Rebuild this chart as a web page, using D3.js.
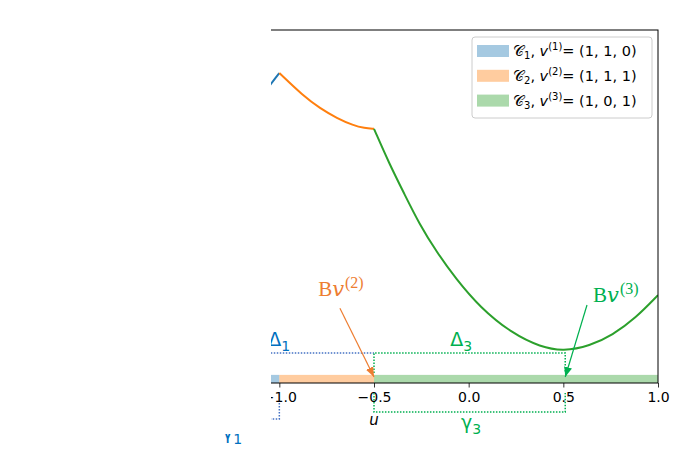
<!DOCTYPE html>
<html>
<head>
<meta charset="utf-8">
<script src="https://cdn.jsdelivr.net/npm/d3@7"></script>
<style>
  body { margin: 0; background: #fff; }
  svg { display: block; }
</style>
</head>
<body>
<div id="chart"></div>
<script>
// x ticks (the left part of the axes is cropped away in the picture)
const xTickValues = [-2.0, -1.5, -1.0, -0.5, 0.0, 0.5, 1.0];

// cones along u, with their sign vectors
const coneNames = ['1', '2', '3'];
const coneLo = [-2.0, -1.0, -0.5];
const coneHi = [-1.0, -0.5, 1.0];
const coneVectors = ['(1, 1, 0)', '(1, 1, 1)', '(1, 0, 1)'];
const bandTop = 0.23;

// curve pieces, one per cone
const curve1U = [-1.10, -1.04, -1.00];
const curve1V = [8.10, 8.50, 8.78];
const curve2U = [-1.00, -0.875, -0.785, -0.695, -0.61, -0.55, -0.50];
const curve2V = [8.78, 8.14, 7.78, 7.50, 7.30, 7.22, 7.20];
const curve3U = [-0.50, -0.42, -0.34, -0.26, -0.17, -0.07, 0.06, 0.23, 0.38, 0.50, 0.64, 0.76, 0.88, 1.00];
const curve3V = [7.20, 6.22, 5.36, 4.50, 3.72, 2.97, 2.14, 1.40, 1.02, 0.90, 1.05, 1.36, 1.83, 2.49];

// projected points Bv(k) and the gap brackets
const bPointU = [-1.5, -0.5, 0.51];
const deltaLevel = 0.85;
const gamma1Y = [-0.54, -1.02];
const gamma3Y = [-0.28, -0.82];

const W = 698, H = 461;
const tab = ['#1f77b4', '#ff7f0e', '#2ca02c'];
const annoOrange = '#ed7d31', annoGreen = '#00b050', annoBlue = '#0070c0', dotBlue = '#4472c4';
const sans = 'DejaVu Sans, Noto Sans, sans-serif';

const x = d3.scaleLinear().domain([-2, 1]).range([90, 658]);
const y = d3.scaleLinear().domain([0, 10]).range([383, 30]);

const svg = d3.select('#chart').append('svg')
    .attr('width', W)
    .attr('height', H)
    .attr('viewBox', `0 0 ${W} ${H}`);

const defs = svg.append('defs');
defs.append('clipPath').attr('id', 'view')
    .append('rect').attr('x', 271).attr('y', 0).attr('width', W - 271).attr('height', H);
defs.append('clipPath').attr('id', 'plot')
    .append('rect').attr('x', x(-2)).attr('y', y(10)).attr('width', x(1) - x(-2)).attr('height', y(0) - y(10));
defs.append('clipPath').attr('id', 'g1clip')
    .append('rect').attr('x', 0).attr('y', 434).attr('width', 271).attr('height', H - 434);

// arrow heads
[['head-orange', annoOrange], ['head-green', annoGreen]].forEach(([id, c]) => {
    defs.append('marker')
        .attr('id', id)
        .attr('markerUnits', 'userSpaceOnUse')
        .attr('viewBox', '0 0 10 8')
        .attr('markerWidth', 10)
        .attr('markerHeight', 8)
        .attr('refX', 10)
        .attr('refY', 4)
        .attr('orient', 'auto')
        .append('path')
        .attr('d', 'M0,0 L10,4 L0,8 z')
        .attr('fill', c);
});

const view = svg.append('g').attr('clip-path', 'url(#view)');
const plot = view.append('g').attr('clip-path', 'url(#plot)');

// colour band along the axis
plot.append('g')
    .selectAll('rect')
    .data(coneNames)
    .join('rect')
    .attr('x', (d, i) => x(coneLo[i]))
    .attr('y', y(bandTop))
    .attr('width', (d, i) => x(coneHi[i]) - x(coneLo[i]))
    .attr('height', y(0) - y(bandTop))
    .attr('fill', (d, i) => tab[i])
    .attr('fill-opacity', 0.4);

// curves
const line = d3.line()
    .x(d => x(d[0]))
    .y(d => y(d[1]))
    .curve(d3.curveBasis);

const pieces = [
    d3.zip(curve1U, curve1V),
    d3.zip(curve2U, curve2V),
    d3.zip(curve3U, curve3V)
];
plot.append('g')
    .selectAll('path')
    .data(pieces)
    .join('path')
    .attr('d', line)
    .attr('fill', 'none')
    .attr('stroke', (d, i) => tab[i])
    .attr('stroke-width', 2);

// spines
const spines = view.append('g').attr('stroke', '#000').attr('stroke-width', 1).attr('fill', 'none');
spines.append('rect')
    .attr('x', x(-2))
    .attr('y', y(10))
    .attr('width', x(1) - x(-2))
    .attr('height', y(0) - y(10));

// x axis
const axis = view.append('g')
    .attr('transform', `translate(0,${y(0)})`)
    .call(d3.axisBottom(x)
        .tickValues(xTickValues)
        .tickFormat(d3.format('.1f'))
        .tickSize(4.5)
        .tickPadding(5));
axis.select('.domain').remove();
axis.selectAll('line').attr('stroke', '#000').attr('stroke-width', 0.8);
axis.selectAll('text')
    .attr('fill', '#000')
    .style('font-family', sans)
    .style('font-size', '14px');

view.append('text')
    .attr('x', (x(-2) + x(1)) / 2)
    .attr('y', 425)
    .attr('text-anchor', 'middle')
    .style('font-family', sans)
    .style('font-size', '15px')
    .style('font-style', 'italic')
    .text('u');

// dotted gap markers
const dotted = (g, d, color) => g.append('path')
    .attr('d', d)
    .attr('fill', 'none')
    .attr('stroke', color)
    .attr('stroke-width', 1.5)
    .attr('stroke-dasharray', '1.5,1.5');

dotted(view, `M${x(bPointU[0])},${y(bandTop)}V${y(deltaLevel)}H${x(bPointU[1])}`, dotBlue);
dotted(view, `M${x(bPointU[1])},${y(bandTop) - 2}V${y(deltaLevel)}H${x(bPointU[2])}V${y(bandTop) - 2}`, annoGreen);
dotted(view, `M${x(bPointU[0])},${y(gamma1Y[0])}V${y(gamma1Y[1])}H${x(-1.0)}V${y(gamma1Y[0])}`, dotBlue);
dotted(view, `M${x(bPointU[1])},${y(gamma3Y[0])}V${y(gamma3Y[1])}H${x(bPointU[2])}V${y(gamma3Y[0])}`, annoGreen);

// Greek labels with subscripts
function greek(g, symbol, sub, ux, py, color) {
    const t = g.append('text')
        .attr('x', x(ux))
        .attr('y', py)
        .attr('text-anchor', 'middle')
        .attr('fill', color)
        .style('font-family', sans)
        .style('font-size', '19px');
    t.append('tspan').text(symbol);
    t.append('tspan').attr('dy', 5).style('font-size', '14px').text(sub);
    return t;
}
greek(view, 'Δ', '1', -1.0, 346, annoBlue);
greek(view, 'Δ', '3', -0.04, 346, annoGreen);
greek(view, 'γ', '3', 0.013, 429, annoGreen);
const g1 = svg.append('g').attr('clip-path', 'url(#g1clip)');
greek(g1, 'γ', '1', -1.25, 439, annoBlue);

// annotations Bv(k) with arrows
const annots = [
    { k: 2, tu: -0.795, tv: 2.46, su: -0.68, sv: 2.12, eu: bPointU[1], ev: 0.17, color: annoOrange, head: 'head-orange' },
    { k: 3, tu: 0.657, tv: 2.29, su: 0.625, sv: 2.21, eu: bPointU[2], ev: 0.17, color: annoGreen, head: 'head-green' }
];
annots.forEach(a => {
    view.append('line')
        .attr('x1', x(a.su)).attr('y1', y(a.sv))
        .attr('x2', x(a.eu)).attr('y2', y(a.ev))
        .attr('stroke', a.color)
        .attr('stroke-width', 1.2)
        .attr('marker-end', `url(#${a.head})`);
    const t = view.append('text')
        .attr('x', x(a.tu))
        .attr('y', y(a.tv))
        .attr('fill', a.color)
        .style('font-family', 'Liberation Serif, DejaVu Serif, serif')
        .style('font-size', '21px');
    t.append('tspan').text('B');
    t.append('tspan').style('font-family', 'DejaVu Serif, serif').style('font-style', 'italic').text('v');
    t.append('tspan').attr('dx', 1).attr('dy', -8).style('font-size', '16px').text(`(${a.k})`);
});

// legend
const legend = svg.append('g').attr('transform', 'translate(472,37)');
legend.append('rect')
    .attr('width', 180)
    .attr('height', 81)
    .attr('rx', 3)
    .attr('fill', '#fff')
    .attr('fill-opacity', 0.8)
    .attr('stroke', '#cccccc')
    .attr('stroke-width', 1);

const rows = legend.selectAll('g.row')
    .data(coneNames)
    .join('g')
    .attr('class', 'row')
    .attr('transform', (d, i) => `translate(0,${14 + i * 24.8})`);
rows.append('rect')
    .attr('x', 5)
    .attr('y', -6)
    .attr('width', 32)
    .attr('height', 12)
    .attr('fill', (d, i) => tab[i])
    .attr('fill-opacity', 0.4);
rows.each(function(d, i) {
    const t = d3.select(this).append('text')
        .attr('x', 41)
        .attr('y', 5)
        .attr('fill', '#000')
        .style('font-family', sans)
        .style('font-size', '14.5px');
    t.append('tspan').text('𝒞');
    t.append('tspan').attr('dy', 3).style('font-size', '10px').text(d);
    t.append('tspan').attr('dy', -3).text(', ');
    t.append('tspan').style('font-style', 'italic').text('v');
    t.append('tspan').attr('dy', -6).style('font-size', '10px').text(`(${d})`);
    t.append('tspan').attr('dy', 6).text('= ' + coneVectors[i]);
});
</script>
</body>
</html>
